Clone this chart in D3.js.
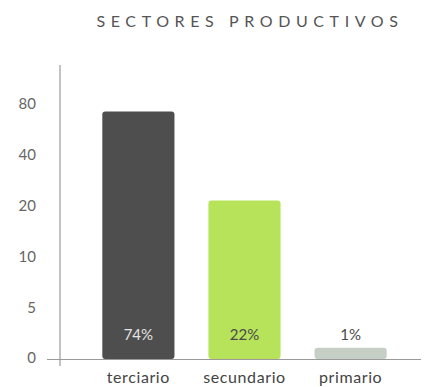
<!DOCTYPE html>
<html>
<head>
<meta charset="utf-8">
<script src="https://cdn.jsdelivr.net/npm/d3@7"></script>
<style>
  html, body { margin: 0; padding: 0; background: #fff; }
  svg { display: block; font-family: Lato, "Open Sans", sans-serif; }
</style>
</head>
<body>
<svg id="chart" width="427" height="387"></svg>
<script>
// Sector shares (percent)
const categories = ["terciario", "secundario", "primario"];
const values = [74, 22, 1];
const valueLabels = ["74%", "22%", "1%"];
const tickValues = [0, 5, 10, 20, 40, 80];
const colors = ["#4e4e4e", "#b7e35b", "#c6cfc6"];
const labelColors = ["#e4e4e4", "#4a4a4a", "#4a4a4a"];

const svg = d3.select("#chart");
const plot = { left: 60, right: 404, top: 104, bottom: 358 };

// The value axis uses evenly spaced steps: 0, 5, 10, 20, 40, 80
const y = d3.scaleLinear()
  .domain(tickValues)
  .range(tickValues.map((_, i) => plot.bottom - i * (plot.bottom - plot.top) / (tickValues.length - 1)));

const x = d3.scaleBand()
  .domain(categories)
  .range([97, 392])
  .paddingInner(0.32)
  .paddingOuter(0.05);

// Title
svg.append("text")
  .attr("x", 250).attr("y", 27)
  .attr("text-anchor", "middle")
  .attr("fill", "#555")
  .attr("font-size", 16)
  .attr("letter-spacing", 5.6)
  .text("SECTORES PRODUCTIVOS");

// Axis lines
svg.append("line")
  .attr("x1", plot.left).attr("x2", plot.left)
  .attr("y1", 65).attr("y2", 366)
  .attr("stroke", "#9a9a9a").attr("stroke-width", 1.2);
svg.append("line")
  .attr("x1", 47).attr("x2", 421)
  .attr("y1", 359.5).attr("y2", 359.5)
  .attr("stroke", "#9a9a9a").attr("stroke-width", 1.2);

// Tick labels
const yAxis = d3.axisLeft(y).tickValues(tickValues).tickSize(0).tickPadding(0);
const gy = svg.append("g").attr("transform", "translate(36,0)").call(yAxis);
gy.select(".domain").remove();
gy.selectAll("text")
  .attr("fill", "#666")
  .attr("font-size", 15)
  .attr("font-family", "Lato, 'Open Sans', sans-serif");

// Bars
svg.selectAll("rect.bar")
  .data(values)
  .join("rect")
  .attr("class", "bar")
  .attr("x", (d, i) => x(categories[i]))
  .attr("width", x.bandwidth())
  .attr("y", d => y(d))
  .attr("height", d => y(0) - y(d) + 1)
  .attr("rx", 3)
  .attr("fill", (d, i) => colors[i]);

// Value labels sit on a common line near the base
svg.selectAll("text.val")
  .data(values)
  .join("text")
  .attr("class", "val")
  .attr("x", (d, i) => x(categories[i]) + x.bandwidth() / 2)
  .attr("y", 340)
  .attr("text-anchor", "middle")
  .attr("font-size", 15)
  .attr("fill", (d, i) => labelColors[i])
  .text((d, i) => valueLabels[i]);

// Category labels
svg.selectAll("text.cat")
  .data(categories)
  .join("text")
  .attr("class", "cat")
  .attr("x", d => x(d) + x.bandwidth() / 2)
  .attr("y", 383)
  .attr("text-anchor", "middle")
  .attr("font-size", 16)
  .attr("letter-spacing", 0.6)
  .attr("fill", "#444")
  .text(d => d);
</script>
</body>
</html>
